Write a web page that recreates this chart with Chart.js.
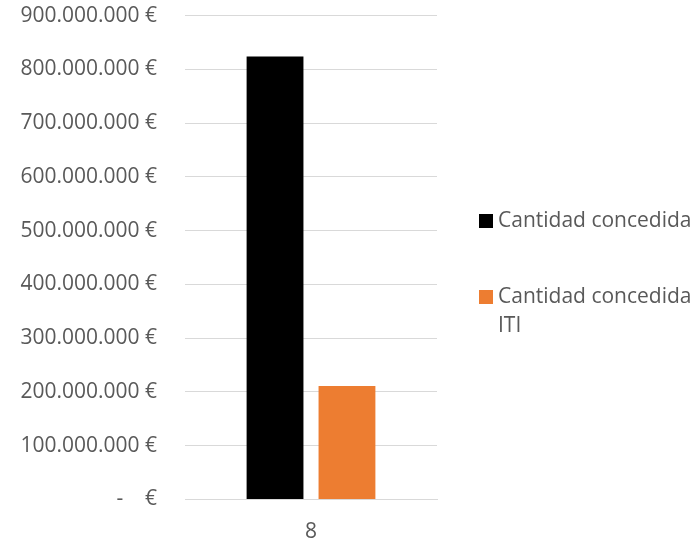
<!DOCTYPE html>
<html>
<head>
<meta charset="utf-8">
<script src="https://cdn.jsdelivr.net/npm/chart.js@4.4.0/dist/chart.umd.min.js"></script>
<style>
  html, body { margin: 0; padding: 0; background: #ffffff; }
  #wrap { width: 692px; height: 540px; position: relative; overflow: hidden; }
  #inner { width: 692px; height: 565px; position: absolute; left: 0; top: -25px; }
</style>
</head>
<body>
<div id="wrap"><div id="inner"><canvas id="chart"></canvas></div></div>
<script>
// data
const categories = ['8'];
const seriesNames = ['Cantidad concedida', ['Cantidad concedida', 'ITI']];
const cantidadConcedida = [824000000];
const cantidadConcedidaITI = [211000000];
const seriesColors = ['#000000', '#ED7D31'];

const FONT = '"Open Sans", sans-serif';
const TEXT_COLOR = '#595959';
const SHIFT = 25; // canvas is moved up by this much

function formatEuro(value) {
    if (value === 0) return '-    €';
    return value.toLocaleString('de-DE') + ' €';
}

// legend drawn on the right, with wrapped label text
const sideLegend = {
    id: 'sideLegend',
    afterDraw(chart) {
        const ctx = chart.ctx;
        const rows = [221 + SHIFT, 297 + SHIFT];
        const lineHeight = 29;
        ctx.save();
        ctx.font = '21px ' + FONT;
        ctx.textBaseline = 'middle';
        ctx.textAlign = 'left';
        chart.data.datasets.forEach((ds, i) => {
            const y = rows[i];
            ctx.fillStyle = ds.backgroundColor;
            ctx.fillRect(479, y - 7, 14, 14);
            ctx.fillStyle = TEXT_COLOR;
            const lines = Array.isArray(ds.label) ? ds.label : [ds.label];
            lines.forEach((line, j) => {
                ctx.fillText(line, 498, y + j * lineHeight);
            });
        });
        ctx.restore();
    }
};

new Chart(document.getElementById('chart').getContext('2d'), {
    type: 'bar',
    data: {
        labels: categories,
        datasets: [{
            label: seriesNames[0],
            data: cantidadConcedida,
            backgroundColor: seriesColors[0]
        }, {
            label: seriesNames[1],
            data: cantidadConcedidaITI,
            backgroundColor: seriesColors[1]
        }]
    },
    options: {
        responsive: true,
        maintainAspectRatio: false,
        animation: false,
        layout: {
            padding: { top: 0, right: 255, bottom: 0, left: 0 }
        },
        datasets: {
            bar: {
                categoryPercentage: 0.571,
                barPercentage: 0.79
            }
        },
        plugins: {
            legend: { display: false },
            tooltip: { enabled: false }
        },
        scales: {
            x: {
                grid: { display: false, drawTicks: false },
                border: { display: true, color: '#d9d9d9', width: 1 },
                ticks: {
                    color: TEXT_COLOR,
                    font: { family: FONT, size: 21 },
                    padding: 20
                },
                afterFit(scale) { scale.height = 40; }
            },
            y: {
                min: 0,
                max: 900000000,
                grid: { color: '#d9d9d9', lineWidth: 1, drawTicks: false },
                border: { display: false },
                ticks: {
                    stepSize: 100000000,
                    color: TEXT_COLOR,
                    font: { family: FONT, size: 21 },
                    padding: 28,
                    callback: formatEuro
                },
                afterFit(scale) { scale.width = 185; }
            }
        }
    },
    plugins: [sideLegend]
});
</script>
</body>
</html>
